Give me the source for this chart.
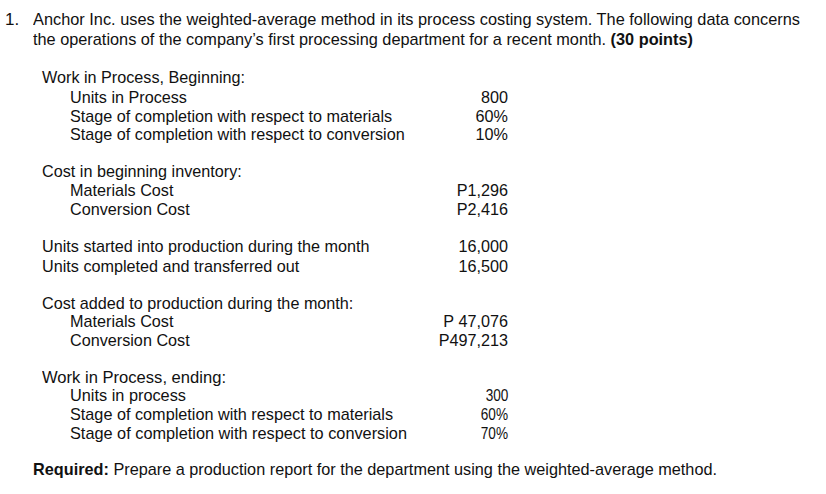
<!DOCTYPE html>
<html>
<head>
<meta charset="utf-8">
<script src="https://cdn.jsdelivr.net/npm/chart.js@4"></script>
<style>
  html, body { margin: 0; padding: 0; background: #fff; }
  #page { position: relative; width: 826px; height: 494px; overflow: hidden;
    font-family: "Liberation Sans", Arial, sans-serif; color: #111; }
  .t { position: absolute; white-space: nowrap; font-size: 16.2px; line-height: 16px; }
  .narrow { font-size: 17px; transform-origin: 0 50%; }
  .r { text-align: right; }
</style>
</head>
<body>
<div id="page"></div>
<script>
'use strict';

let introLine1 = 'Anchor Inc. uses the weighted-average method in its process costing system. The following data concerns';
let introLine2 = 'the operations of the company\u2019s first processing department for a recent month. ';
let introPoints = '(30 points)';

let wipBeginTitle = 'Work in Process, Beginning:';
let wipBeginLabels = ['Units in Process', 'Stage of completion with respect to materials', 'Stage of completion with respect to conversion'];
let wipBeginValues = ['800', '60%', '10%'];

let begCostTitle = 'Cost in beginning inventory:';
let begCostLabels = ['Materials Cost', 'Conversion Cost'];
let begCostValues = ['P1,296', 'P2,416'];

let unitLabels = ['Units started into production during the month', 'Units completed and transferred out'];
let unitValues = ['16,000', '16,500'];

let addedTitle = 'Cost added to production during the month:';
let addedLabels = ['Materials Cost', 'Conversion Cost'];
let addedValues = ['P\u00a047,076', 'P497,213'];

let wipEndTitle = 'Work in Process, ending:';
let wipEndLabels = ['Units in process', 'Stage of completion with respect to materials', 'Stage of completion with respect to conversion'];
let wipEndValues = ['300', '60%', '70%'];

let requiredLead = 'Required:';
let requiredText = ' Prepare a production report for the department using the weighted-average method.';

let page = document.getElementById('page');
let fitList = [];

function addText(html, x, cy, opts) {
  opts = opts || {};
  let el = document.createElement('div');
  el.className = 't' + (opts.narrow ? ' narrow' : '') + (opts.right ? ' r' : '');
  el.innerHTML = html;
  el.style.top = (cy - 8) + 'px';
  if (opts.right) {
    el.style.right = (826 - x) + 'px';
  } else {
    el.style.left = x + 'px';
  }
  page.appendChild(el);
  if (opts.fit) {
    fitList.push([el, opts.fit]);
  }
  return el;
}

// heading
addText('1.', 5, 20, { narrow: true });
addText(introLine1, 33, 20, { narrow: true, fit: 767 });
addText(introLine2 + '<b>' + introPoints + '</b>', 33, 40, { narrow: true, fit: 660 });

// beginning work in process
addText(wipBeginTitle, 42, 77);
let ys = [97, 116, 134];
for (let i = 0; i < wipBeginLabels.length; i++) {
  addText(wipBeginLabels[i], 70, ys[i]);
  addText(wipBeginValues[i], 508, ys[i], { right: true });
}

// beginning costs
addText(begCostTitle, 42, 171);
ys = [190, 209];
for (let i = 0; i < begCostLabels.length; i++) {
  addText(begCostLabels[i], 70, ys[i]);
  addText(begCostValues[i], 508, ys[i], { right: true });
}

// units
ys = [246, 266];
for (let i = 0; i < unitLabels.length; i++) {
  addText(unitLabels[i], 42, ys[i]);
  addText(unitValues[i], 508, ys[i], { right: true });
}

// added costs
addText(addedTitle, 42, 303);
ys = [321, 340];
for (let i = 0; i < addedLabels.length; i++) {
  addText(addedLabels[i], 70, ys[i]);
  addText(addedValues[i], 508, ys[i], { right: true });
}

// ending work in process (narrower type in the original)
addText(wipEndTitle, 42, 378, { narrow: true, fit: 184 });
ys = [396, 415, 434];
let endFits = [116, 323, 337];
for (let i = 0; i < wipEndLabels.length; i++) {
  addText(wipEndLabels[i], 70, ys[i], { narrow: true, fit: endFits[i] });
  addText(wipEndValues[i], 508, ys[i], { narrow: true, right: true });
}

addText('<b>' + requiredLead + '</b>' + requiredText, 33, 470, { narrow: true, fit: 684 });

// squeeze the narrow lines to the widths seen in the picture
for (let i = 0; i < fitList.length; i++) {
  let el = fitList[i][0];
  let w = el.getBoundingClientRect().width;
  el.style.transform = 'scaleX(' + (fitList[i][1] / w) + ')';
}
document.querySelectorAll('.narrow.r').forEach(function (el) {
  el.style.transformOrigin = '100% 50%';
  el.style.transform = 'scaleX(0.8)';
});
</script>
</body>
</html>
